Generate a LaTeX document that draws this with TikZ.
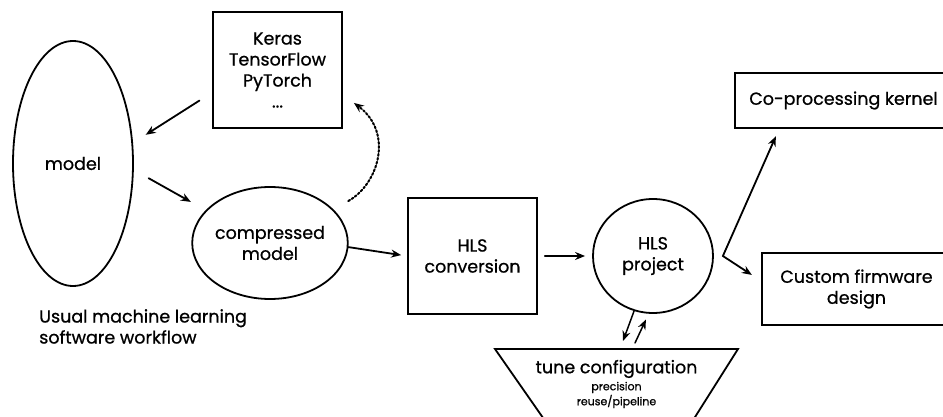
\documentclass[tikz,border=0pt]{standalone}
\usepackage{fontspec}
\setmainfont{Poppins}[FakeBold=0.8]
\usetikzlibrary{arrows.meta,shapes.geometric}

\begin{document}
\begin{tikzpicture}[x=1pt,y=-1pt,line cap=round,line width=1.8pt,
    font=\fontsize{17.5}{21}\selectfont,
    box/.style={draw,rectangle,align=center,inner sep=0pt},
    blob/.style={draw,ellipse,align=center,inner sep=0pt},
    flow/.style={-{Stealth[length=10pt,width=8pt]}}]
    \useasboundingbox (0,0) rectangle (943,417);
    \clip (0,0) rectangle (943,417);
    \node[blob,minimum width=120pt,minimum height=245pt] (model) at (73,163.5) {model};
    \node[box,minimum width=129pt,minimum height=116pt] (frameworks) at (277.5,70) {Keras\\TensorFlow\\PyTorch\\...};
    \node[blob,minimum width=152pt,minimum height=112pt] (compressed) at (270,243) {compressed\\model};
    \node[box,minimum width=129pt,minimum height=116pt] (hlsconv) at (472.5,256) {HLS\\conversion};
    \node[blob,minimum width=120pt,minimum height=114pt] (project) at (653,256) {HLS\\project};
    \node[box,minimum width=217pt,minimum height=55pt] (coproc) at (843.5,100.5) {Co-processing kernel};
    \node[box,minimum width=189pt,minimum height=72pt] (firmware) at (856.5,289) {Custom firmware\\design};
    \node[anchor=north west,align=left] (workflow) at (35,305) {Usual machine learning\\software workflow};
    \draw (495,349) -- (738,349) -- (690,425) -- (548,425) -- cycle;
    \node[align=center] (tune) at (616.5,384) {tune configuration\\[-4pt]{\fontsize{11}{14}\selectfont precision}\\[-6pt]{\fontsize{11}{14}\selectfont reuse/pipeline}};
    \coordinate (split) at ([xshift=9pt]project.east);
    \coordinate (cfgin) at (623,341);
    \coordinate (cfgout) at (635,343);

    \draw[flow,shorten <=15pt,shorten >=15pt] (frameworks.199) -- (model.19);
    \draw[flow,shorten <=17pt,shorten >=17pt] (model.-6) -- (compressed.153);
    \draw[flow,shorten >=6pt] (compressed.-3) -- (hlsconv.west);
    \draw[flow,shorten <=7pt,shorten >=7pt] (hlsconv.east) -- (project.west);
    \draw[flow,dotted,line width=2pt,shorten <=17pt] (compressed.28) .. controls +(45,-25) and +(40,30) .. ([xshift=11pt,yshift=26pt]frameworks.south east);
    \draw[flow,line width=1.5pt] (project.251) -- (cfgin);
    \draw[flow,line width=1.5pt] (cfgout) -- ([yshift=-6pt]project.263);
    \draw[{Stealth[length=10pt,width=8pt]}-{Stealth[length=10pt,width=8pt]},shorten <=8pt,shorten >=11pt]
        ([xshift=45pt]coproc.south west) -- (split) -- ([yshift=8pt]firmware.west);
\end{tikzpicture}
\end{document}
